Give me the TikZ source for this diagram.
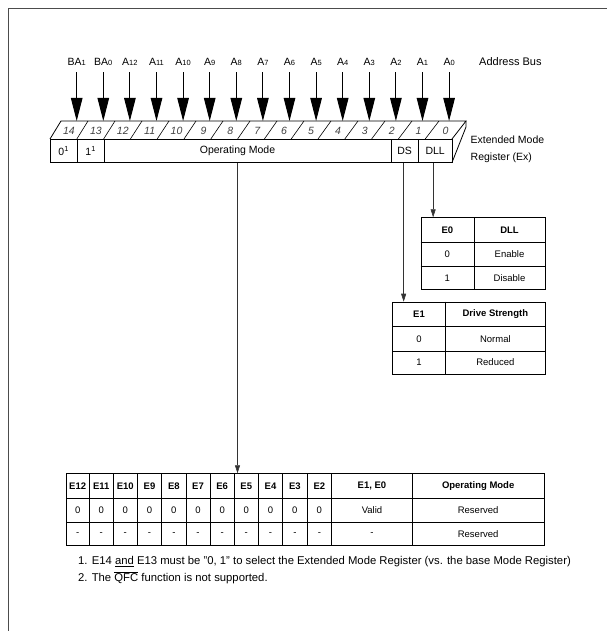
\documentclass[tikz,border=0pt]{standalone}
\usepackage{fontspec}
\setmainfont{Liberation Sans}
\usetikzlibrary{arrows.meta}
\newcommand\bsub[1]{{\fontsize{7.5}{9}\selectfont #1}}
\begin{document}
\begin{tikzpicture}[x=1pt,y=-1pt,
  lbl/.style={font=\fontsize{10.5}{12}\selectfont, inner sep=0pt, anchor=base, text depth=0pt},
  busarrow/.style={line width=1pt, -{Triangle[width=11.5pt,length=23pt]}, shorten <=6.5pt},
  reg/.style={line width=0.8pt},
  bitnum/.style={font=\fontsize{10.5}{11}\selectfont\itshape, inner sep=0pt, text=black!75},
  regtxt/.style={font=\fontsize{10.5}{12}\selectfont, inner sep=0pt},
  tap/.style={line width=0.6pt, draw=black!80, -{Triangle[width=5pt,length=8pt]}},
  tbl/.style={line width=0.8pt},
  tbo/.style={draw, line width=1.1pt, inner sep=0pt, anchor=north west},
  cell/.style={font=\fontsize{9.5}{11}\selectfont, inner sep=0pt},
  hcell/.style={font=\fontsize{9.5}{11}\selectfont\bfseries, inner sep=0pt},
  note/.style={font=\fontsize{11.3}{13}\selectfont, inner sep=0pt, anchor=base west}
]
\useasboundingbox (0,0) rectangle (607,631);
\draw[line width=0.6pt, black!70] (8,631) -- (8,8) -- (607,8);

% address bus labels and arrows
\foreach \t [count=\k from 0] in {BA\bsub{1},BA\bsub{0},A\bsub{12},A\bsub{11},A\bsub{10},A\bsub{9},A\bsub{8},A\bsub{7},A\bsub{6},A\bsub{5},A\bsub{4},A\bsub{3},A\bsub{2},A\bsub{1},A\bsub{0}}{
  \pgfmathsetmacro\xx{76.7+26.6*\k}
  \node[lbl] (lab\k) at (\xx,65.5) {\t};
  \coordinate (hit\k) at (\xx,121);
  \draw[busarrow] (lab\k.south) -- (hit\k);
}
\node[lbl, font=\fontsize{11}{12}\selectfont, anchor=base west] (abus) at (479,65.5) {Address Bus};

% register: top face
\draw[reg] (50,139) -- (61,121) -- (466,121) -- (452,139);
\draw[reg] (466,121) -- (466,127) -- (452,162.5);
\foreach \k in {1,...,14} \draw[line width=0.6pt] ({50+26.8*\k},139) -- ({61+27*\k},121);
\foreach \n [count=\k from 0] in {14,13,...,0}
  \node[bitnum] (bit\k) at ({68.95+26.9*\k},130.5) {\n};

% register: front face cells
\node[tbo, line width=0.8pt, minimum width=26.5pt, minimum height=23.5pt] (c14) at (50,139) {};
\node[tbo, line width=0.8pt, minimum width=27.5pt, minimum height=23.5pt] (c13) at (76.5,139) {};
\node[tbo, line width=0.8pt, minimum width=287pt, minimum height=23.5pt] (opcell) at (104,139) {};
\node[tbo, line width=0.8pt, minimum width=26.5pt, minimum height=23.5pt] (dscell) at (391,139) {};
\node[tbo, line width=0.8pt, minimum width=34.5pt, minimum height=23.5pt] (dllcell) at (417.5,139) {};
\node[regtxt] (t14) at (c14) {0\textsuperscript{1}};
\node[regtxt] (t13) at (c13) {1\textsuperscript{1}};
\node[regtxt] (opm) at (237.5,151) {Operating Mode};
\node[regtxt] (ds) at (dscell) {DS};
\node[regtxt] (dll) at (dllcell) {DLL};
\node[regtxt, anchor=base west] (ext1) at (470.5,143.3) {Extended Mode};
\node[regtxt, anchor=base west] (ext2) at (470.5,160.8) {Register (Ex)};

% DLL table
\node[tbo, line width=0.8pt, minimum width=124.3pt, minimum height=72pt] (dlltab) at (420.7,217.3) {};
\draw[tbl] (474,217.3) -- (474,289.3);
\draw[tbl] (420.7,242.3) -- (545,242.3);
\draw[tbl] (420.7,266.7) -- (545,266.7);
\node[hcell] (d00) at (447.35,229.8) {E0};
\node[hcell] (d01) at (509.5,229.8) {DLL};
\node[cell] (d10) at (447.35,254.5) {0};
\node[cell] (d11) at (509.5,254.5) {Enable};
\node[cell] (d20) at (447.35,278) {1};
\node[cell] (d21) at (509.5,278) {Disable};

% DS table
\node[tbo, line width=0.8pt, minimum width=152.7pt, minimum height=72.3pt] (dstab) at (392.3,301.7) {};
\draw[tbl] (445.7,301.7) -- (445.7,374);
\draw[tbl] (392.3,326.7) -- (545,326.7);
\draw[tbl] (392.3,351) -- (545,351);
\node[hcell] (s00) at (419,314.2) {E1};
\node[hcell] (s01) at (495.35,314.2) {Drive Strength};
\node[cell] (s10) at (419,338.8) {0};
\node[cell] (s11) at (495.35,338.8) {Normal};
\node[cell] (s20) at (419,362.5) {1};
\node[cell] (s21) at (495.35,362.5) {Reduced};

% main table
\node[tbo, minimum width=478pt, minimum height=71.7pt] (mtab) at (66,473.3) {};
\foreach \xx in {89.3,113.3,137.3,161.7,186,210,234.3,258.3,282.7,307,331.7,412.3}
  \draw[line width=0.9pt] (\xx,473.3) -- (\xx,545);
\draw[tbl] (66,498.3) -- (544,498.3);
\draw[tbl] (66,522.3) -- (544,522.3);
\foreach \xa/\xb/\h [count=\i] in {66/89.3/E12,89.3/113.3/E11,113.3/137.3/E10,137.3/161.7/E9,161.7/186/E8,186/210/E7,210/234.3/E6,234.3/258.3/E5,258.3/282.7/E4,282.7/307/E3,307/331.7/E2}{
  \node[hcell] (mh\i) at ({(\xa+\xb)/2},485.8) {\h};
  \node[cell] (ma\i) at ({(\xa+\xb)/2},510.3) {0};
  \node[cell] (mb\i) at ({(\xa+\xb)/2},533.6) {-};
}
\node[hcell] (mhE) at (372,485.8) {E1, E0};
\node[hcell] (mhO) at (478.15,485.8) {Operating Mode};
\node[cell] (maE) at (372,510.3) {Valid};
\node[cell] (maO) at (478.15,510.3) {Reserved};
\node[cell] (mbE) at (372,533.6) {-};
\node[cell] (mbO) at (478.15,533.6) {Reserved};

% taps from register to tables
\draw[tap] (opm.center |- opcell.south) -- (opm.center |- mtab.north);
\draw[tap] ([xshift=-1pt]dscell.south) -- ([xshift=-1pt]dscell.south |- dstab.north);
\draw[tap] ([xshift=-2pt]dllcell.south) -- ([xshift=-2pt]dllcell.south |- dlltab.north);

% notes
\node[note] (n1) at (78,564.5) {1. E14 \underline{and} E13 must be "0, 1" to select the Extended Mode Register (vs. the base Mode Register)};
\node[note] (n2) at (78,581) {2. The $\overline{\mbox{QFC}}$ function is not supported.};
\end{tikzpicture}
\end{document}
